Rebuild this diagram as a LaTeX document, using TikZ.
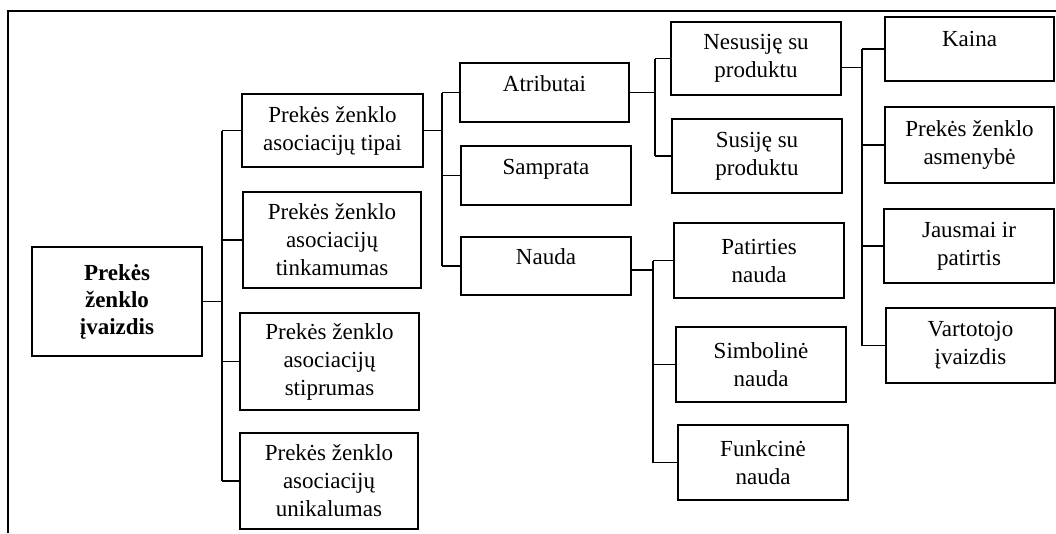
\documentclass[tikz,border=0pt]{standalone}
\usepackage{fontspec}
\setmainfont{Liberation Serif}
\begin{document}
\begin{tikzpicture}[x=1pt,y=-1pt,
  box/.style={draw, line width=1.1pt, inner sep=0pt, align=center,
    font=\fontsize{23}{28}\selectfont},
  rootbox/.style={draw, line width=2.8pt, inner sep=0pt, align=center,
    font=\fontsize{23}{27}\selectfont\bfseries},
  link/.style={line width=1.1pt},
  frame/.style={line width=1.3pt}]
\useasboundingbox (0,0) rectangle (1056,533);

% outer frame (top and left edges)
\draw[frame] (8,533) -- (8,11) -- (1056,11);

% root
\node[rootbox, minimum width=170pt, minimum height=109pt] (root) at (117,301.5)
  {Prekės\\ženklo\\įvaizdis};

% first level
\node[box, minimum width=181pt, minimum height=73pt] (a1) at (332.5,130.5)
  {Prekės ženklo\\asociacijų tipai};
\node[box, minimum width=178pt, minimum height=96pt] (a2) at (332,240)
  {Prekės ženklo\\asociacijų\\tinkamumas};
\node[box, minimum width=179pt, minimum height=97pt] (a3) at (329.5,361.5)
  {Prekės ženklo\\asociacijų\\stiprumas};
\node[box, minimum width=178pt, minimum height=96pt] (a4) at (329,481)
  {Prekės ženklo\\asociacijų\\unikalumas};

% association types
\node[box, minimum width=169pt, minimum height=59pt] (atr) at (544.5,92.5)
  {\smash{\raisebox{1.5pt}{Atributai}}};
\node[box, minimum width=170pt, minimum height=59pt] (samp) at (546,175.5)
  {\smash{\raisebox{1.5pt}{Samprata}}};
\node[box, minimum width=170pt, minimum height=58pt] (naud) at (546,266)
  {\smash{\raisebox{1.5pt}{Nauda}}};

% attributes
\node[box, minimum width=170pt, minimum height=73pt] (nes) at (756,58.5)
  {Nesusiję su\\produktu};
\node[box, minimum width=170pt, minimum height=74pt] (sus) at (757,156)
  {Susiję su\\produktu};

% non-product-related attributes
\node[box, minimum width=169pt, minimum height=64pt] (kaina) at (969.5,49)
  {\smash{\raisebox{2.5pt}{Kaina}}};
\node[box, minimum width=169pt, minimum height=76pt] (asm) at (969.5,145)
  {Prekės ženklo\\asmenybė};
\node[box, minimum width=170pt, minimum height=74pt] (jaus) at (969,246)
  {Jausmai ir\\patirtis};
\node[box, minimum width=169pt, minimum height=75pt] (vart) at (970.5,345.5)
  {Vartotojo\\įvaizdis};

% benefits
\node[box, minimum width=170pt, minimum height=75pt] (pat) at (759,260.5)
  {Patirties\\nauda};
\node[box, minimum width=170pt, minimum height=75pt] (simb) at (761,364.5)
  {Simbolinė\\nauda};
\node[box, minimum width=170pt, minimum height=75pt] (funk) at (763,462.5)
  {Funkcinė\\nauda};

% bus lines
\coordinate (b0) at (222,0);
\coordinate (b1) at (442,0);
\coordinate (b2) at (655,0);
\coordinate (b3) at (862,0);
\coordinate (b4) at (653,0);

% root -> first level
\draw[link] (root.east) -- (root.east -| b0);
\draw[link] (b0 |- a1.west) -- (b0 |- a4.west);
\foreach \n in {a1,a2,a3,a4} \draw[link] (b0 |- \n.west) -- (\n.west);

% association types
\draw[link] (a1.east) -- (a1.east -| b1);
\draw[link] (b1 |- atr.west) -- (b1 |- naud.west);
\foreach \n in {atr,samp,naud} \draw[link] (b1 |- \n.west) -- (\n.west);

% attributes
\draw[link] (atr.east) -- (atr.east -| b2);
\draw[link] (b2 |- nes.west) -- (b2 |- sus.west);
\foreach \n in {nes,sus} \draw[link] (b2 |- \n.west) -- (\n.west);

% non-product-related attributes
\draw[link] ([yshift=-9pt]nes.east) -- ([yshift=-9pt]nes.east -| b3);
\draw[link] (b3 |- kaina.west) -- (b3 |- vart.west);
\foreach \n in {kaina,asm,jaus,vart} \draw[link] (b3 |- \n.west) -- (\n.west);

% benefits
\draw[link] ([yshift=-4pt]naud.east) -- ([yshift=-4pt]naud.east -| b4);
\draw[link] (b4 |- pat.west) -- (b4 |- funk.west);
\foreach \n in {pat,simb,funk} \draw[link] (b4 |- \n.west) -- (\n.west);
\end{tikzpicture}
\end{document}
